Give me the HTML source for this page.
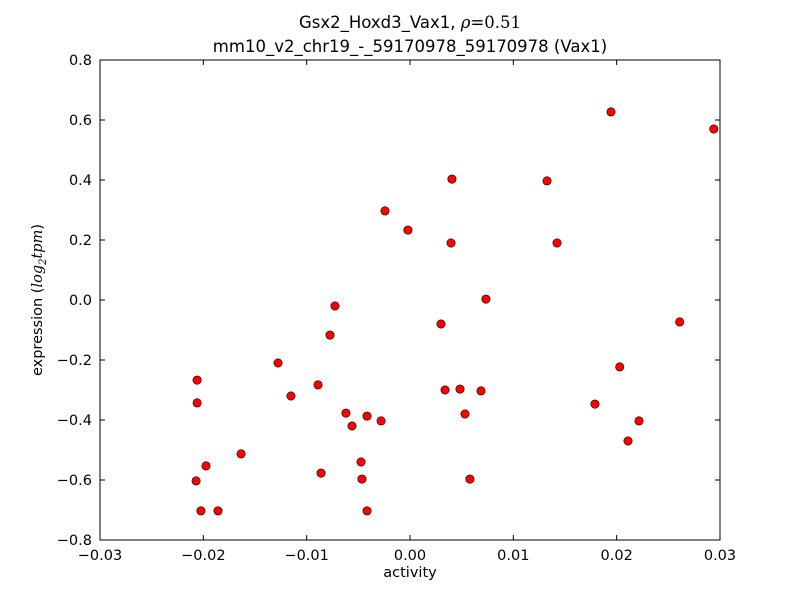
<!DOCTYPE html>
<html><head><meta charset="utf-8">
<style>
body{margin:0;background:#fff;}
svg{display:block;font-family:"DejaVu Sans","Liberation Sans",sans-serif;}
</style></head>
<body>
<svg id="chart" width="800" height="600" viewBox="0 0 800 600">
<rect x="0" y="0" width="800" height="600" fill="#fff"/>
<text x="410" y="28" text-anchor="middle" font-size="16.5">Gsx2_Hoxd3_Vax1, <tspan font-family="'DejaVu Serif',serif" font-style="italic">ρ</tspan><tspan font-family="'DejaVu Serif',serif">=0.51</tspan></text>
<text x="410" y="52" text-anchor="middle" font-size="16.5">mm10_v2_chr19_-_59170978_59170978 (Vax1)</text>
<g id="points"></g>
<rect x="100" y="60" width="620" height="480" fill="none" stroke="#000" stroke-width="1"/>
<g id="xticks"></g>
<g id="yticks"></g>
<text x="410" y="577" text-anchor="middle" font-size="14.5">activity</text>
<text transform="translate(42,300) rotate(-90)" text-anchor="middle" font-size="14.5">expression (<tspan font-style="italic" font-family="'DejaVu Serif',serif">log</tspan><tspan font-size="10" dy="4" font-style="italic" font-family="'DejaVu Serif',serif">2</tspan><tspan dy="-4" font-style="italic" font-family="'DejaVu Serif',serif">tpm</tspan>)</text>
</svg>
<script>
const activity = [0.01945,0.0294,0.00406,0.01326,-0.00242,-0.0002,0.00397,0.01423,0.00735,-0.00726,0.0261,0.003,-0.00774,-0.01277,0.0203,-0.0206,-0.0089,0.00339,0.00484,0.00687,-0.01152,-0.0206,0.0179,-0.0062,0.00532,-0.00416,-0.0028,0.02216,-0.00561,0.0211,-0.01635,-0.01974,-0.00474,-0.00861,-0.00465,0.0058,-0.0207,-0.02023,-0.01858,-0.00416];
const expression = [0.627,0.57,0.403,0.397,0.297,0.233,0.19,0.19,0.003,-0.02,-0.073,-0.08,-0.117,-0.21,-0.223,-0.267,-0.283,-0.3,-0.297,-0.303,-0.32,-0.343,-0.347,-0.377,-0.38,-0.387,-0.403,-0.403,-0.42,-0.47,-0.513,-0.553,-0.54,-0.577,-0.597,-0.597,-0.603,-0.703,-0.703,-0.703];
const xTicks = [-0.03,-0.02,-0.01,0.00,0.01,0.02,0.03];
const xTickLabels = ["\u22120.03","\u22120.02","\u22120.01","0.00","0.01","0.02","0.03"];
const yTicks = [-0.8,-0.6,-0.4,-0.2,0.0,0.2,0.4,0.6,0.8];
const yTickLabels = ["\u22120.8","\u22120.6","\u22120.4","\u22120.2","0.0","0.2","0.4","0.6","0.8"];

const NS="http://www.w3.org/2000/svg";
const X0=100,X1=720,Y0=540,Y1=60;
function sx(v){return X0+(v-(-0.03))/0.06*(X1-X0);}
function sy(v){return Y0-(v-(-0.8))/1.6*(Y0-Y1);}
function mk(t,a){const e=document.createElementNS(NS,t);for(const k in a)e.setAttribute(k,a[k]);return e;}

const pg=document.getElementById('points');
activity.forEach((a,i)=>{
  const c=mk('circle',{cx:sx(a),cy:sy(expression[i]),r:4.2,fill:'#ff0000',stroke:'#000','stroke-width':0.6});
  
  
  pg.appendChild(c);
});
const xg=document.getElementById('xticks');
xTicks.forEach((t,i)=>{
  const x=sx(t);
  const l1=mk('line',{x1:x,x2:x,y1:Y0,y2:Y0-5,stroke:'#000'});
  
  
  xg.appendChild(l1);
  const l2=mk('line',{x1:x,x2:x,y1:Y1,y2:Y1+5,stroke:'#000'});
  
  
  xg.appendChild(l2);
  const tx=mk('text',{x:x,y:Y0+20,'text-anchor':'middle','font-size':14.5});
  tx.textContent=xTickLabels[i];
  
  
  xg.appendChild(tx);
});
const yg=document.getElementById('yticks');
yTicks.forEach((t,i)=>{
  const y=sy(t);
  const l1=mk('line',{x1:X0,x2:X0+5,y1:y,y2:y,stroke:'#000'});
  
  
  yg.appendChild(l1);
  const l2=mk('line',{x1:X1-5,x2:X1,y1:y,y2:y,stroke:'#000'});
  
  
  yg.appendChild(l2);
  const tx=mk('text',{x:X0-8,y:y+5,'text-anchor':'end','font-size':14.5});
  tx.textContent=yTickLabels[i];
  
  
  yg.appendChild(tx);
});
</script>
</body></html>
